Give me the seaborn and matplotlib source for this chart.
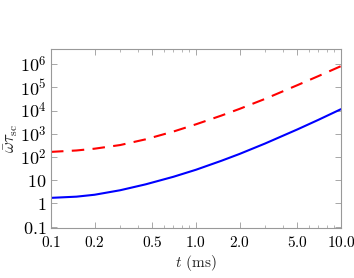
import numpy as np
import pandas as pd
import matplotlib
matplotlib.use("Agg")
import matplotlib.pyplot as plt
import seaborn as sns
from matplotlib.ticker import FixedLocator, FixedFormatter, NullLocator

t_ms = [0.1, 0.15, 0.2, 0.3, 0.45, 0.7, 1.0, 1.5, 2.0, 3.0, 5.0, 7.0, 10.0]
blue_vals = [1.74, 1.96, 2.37, 3.70, 6.65, 14.1, 28.2, 68.9, 135.5, 381, 1531, 3990, 11430]
red_vals = [166, 191, 228, 327, 577, 1250, 2553, 6095, 11800, 31850, 123300, 305500, 815000]

xticks = [0.1, 0.2, 0.5, 1.0, 2.0, 5.0, 10.0]
xticklabels = ["0.1", "0.2", "0.5", "1.0", "2.0", "5.0", "10.0"]
yticks = [0.1, 1, 10, 1e2, 1e3, 1e4, 1e5, 1e6]
yticklabels = ["0.1", "1", "10", "$10^2$", "$10^3$", "$10^4$", "$10^5$", "$10^6$"]

sns.set_style("ticks")
plt.rcParams["mathtext.fontset"] = "cm"
plt.rcParams["font.family"] = ["serif"]
plt.rcParams["font.serif"] = ["DejaVu Serif"]

df = pd.DataFrame({
    "t": t_ms * 2,
    "v": blue_vals + red_vals,
    "s": ["blue"] * len(t_ms) + ["red"] * len(t_ms),
})

fig = plt.figure(figsize=(3.54, 2.78), dpi=100)
ax = fig.add_axes([0.144, 0.18, 0.819, 0.644])

sns.lineplot(data=df[df.s == "blue"], x="t", y="v", color="#0000ff", lw=1.5, ax=ax)
sns.lineplot(data=df[df.s == "red"], x="t", y="v", color="#ff0000", lw=1.5, ax=ax,
             dashes=False, linestyle=(0, (6, 4)))

ax.set_xscale("log")
ax.set_yscale("log")
ax.set_xlim(0.1, 10.0)
ax.set_ylim(0.088, 4.5e6)

ax.xaxis.set_major_locator(FixedLocator(xticks))
ax.xaxis.set_major_formatter(FixedFormatter(["$" + s + "$" for s in xticklabels]))
ax.yaxis.set_major_locator(FixedLocator(yticks))
ax.yaxis.set_major_formatter(FixedFormatter([s if s.startswith("$") else "$" + s + "$" for s in yticklabels]))
ax.yaxis.set_minor_locator(NullLocator())

spine_col = "#999999"
for sp in ax.spines.values():
    sp.set_visible(True)
    sp.set_color(spine_col)
    sp.set_linewidth(0.8)
ax.tick_params(which="both", direction="in", top=True, right=True, colors=spine_col,
               labelcolor="black")
ax.tick_params(which="major", length=4, width=0.6, labelsize=13, pad=3)
ax.tick_params(which="minor", length=2, width=0.5)
ax.tick_params(axis="x", which="major", labelsize=11, pad=5)

ax.set_xlabel(r"$t$ $(\mathrm{ms})$", fontsize=11, labelpad=2)
ax.set_ylabel(r"$\bar{\omega}\tau_{\rm sc}$", fontsize=12, labelpad=0)

fig.savefig("out.png", dpi=100)
